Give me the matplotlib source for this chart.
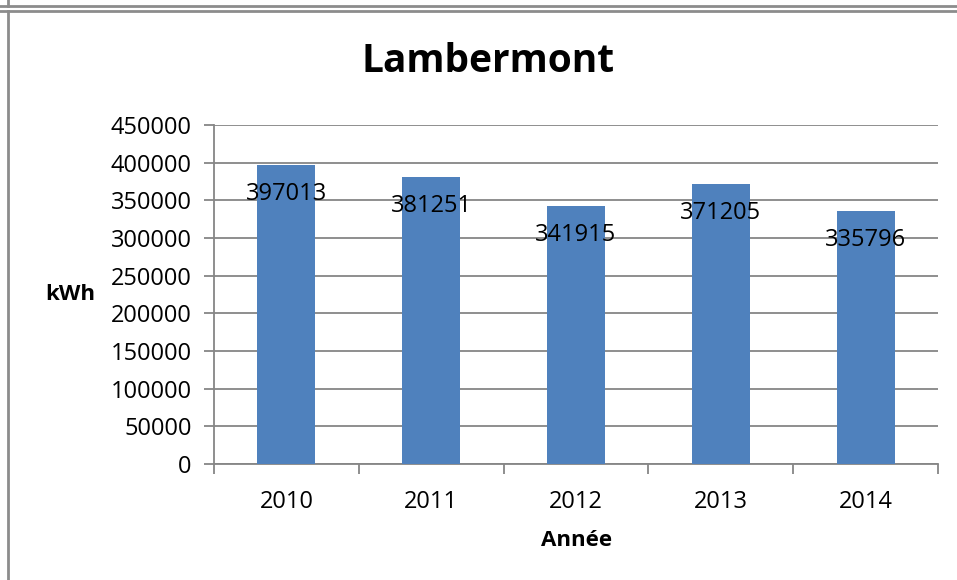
import matplotlib
matplotlib.use("Agg")
import matplotlib.pyplot as plt
from matplotlib.lines import Line2D

plt.rcParams['font.family'] = ['Open Sans', 'DejaVu Sans']

# données
annees = ["2010", "2011", "2012", "2013", "2014"]
kwh = [397013, 381251, 341915, 371205, 335796]
yticks = [0, 50000, 100000, 150000, 200000, 250000, 300000, 350000, 400000, 450000]

W, H = 957, 580
fig = plt.figure(figsize=(W / 100, H / 100), dpi=100)
ax = fig.add_axes([214 / W, 1 - 464 / H, (938 - 214) / W, (464 - 125) / H])

x = range(len(annees))
bars = ax.bar(x, kwh, width=0.4, color='#4F81BD', zorder=3)

# étiquettes de données (à l'intérieur du haut de la barre)
for xi, v in zip(x, kwh):
    ax.annotate(str(v), (xi, v), xytext=(0, -29), textcoords='offset pixels',
                ha='center', va='center', fontsize=17, color='black', zorder=4)

ax.set_xlim(-0.5, len(annees) - 0.5)
ax.set_ylim(0, 450000)
ax.set_yticks(yticks)
ax.set_yticklabels([str(t) for t in yticks], fontsize=17)
ax.set_xticks(list(x))
ax.set_xticklabels(annees, fontsize=17)
ax.set_xticks([i - 0.5 for i in range(len(annees) + 1)], minor=True)

ax.grid(axis='y', color='#868686', linewidth=1.3, zorder=0)
for s in ['top', 'right']:
    ax.spines[s].set_visible(False)
ax.spines['left'].set_color('#868686')
ax.spines['bottom'].set_color('#868686')
ax.spines['left'].set_linewidth(1.3)
ax.spines['bottom'].set_linewidth(1.3)

ax.tick_params(axis='y', length=7, width=1.3, color='#868686', pad=9)
ax.tick_params(axis='x', which='major', length=0, pad=19)
ax.tick_params(axis='x', which='minor', length=7, width=1.3, color='#868686')

# titres
fig.text(488 / W, 1 - 62 / H, "Lambermont", ha='center', va='center',
         fontsize=28, fontweight='bold')
fig.text(70.5 / W, 1 - 295 / H, "kWh", ha='center', va='center',
         fontsize=16, fontweight='bold')
fig.text(577 / W, 1 - 540 / H, "Année", ha='center', va='center',
         fontsize=16, fontweight='bold')

# cadre
gris = '#8C8C8C'
fig.add_artist(Line2D([0, 1], [1 - 6 / H, 1 - 6 / H], color=gris, lw=2))
fig.add_artist(Line2D([0, 1], [1 - 11 / H, 1 - 11 / H], color=gris, lw=2))
fig.add_artist(Line2D([8 / W, 8 / W], [1, 1 - 6 / H], color=gris, lw=2))
fig.add_artist(Line2D([8 / W, 8 / W], [0, 1 - 11 / H], color=gris, lw=2))

fig.savefig("out.png", dpi=100)
